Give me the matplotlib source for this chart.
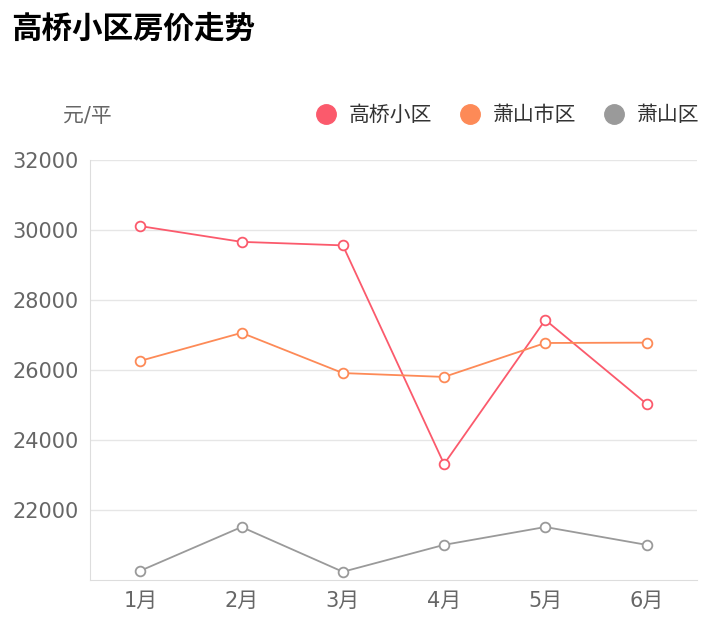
import matplotlib.pyplot as plt
from matplotlib.lines import Line2D

plt.rcParams['font.family'] = ['DejaVu Sans', 'Noto Sans CJK JP', 'Noto Sans CJK SC',
                               'Noto Sans CJK TC', 'Noto Sans CJK KR']

months = ['1月', '2月', '3月', '4月', '5月', '6月']
gaoqiao = [30110, 29660, 29560, 23310, 27430, 25030]
xs_city = [26260, 27060, 25910, 25800, 26770, 26780]
xs_dist = [20260, 21510, 20230, 21000, 21510, 21000]
series = [('高桥小区', gaoqiao, '#fb5a6c'),
          ('萧山市区', xs_city, '#fd8a57'),
          ('萧山区', xs_dist, '#9a9a9a')]

fig = plt.figure(figsize=(7.18, 6.4), dpi=100)
ax = fig.add_axes([0.125, 0.094, 0.846, 0.656])
x = range(len(months))
for name, vals, c in series:
    ax.plot(x, vals, color=c, lw=1.3, marker='o', ms=7,
            mfc='white', mec=c, mew=1.3, zorder=3)

ax.set_xlim(-0.5, 5.5)
ax.set_ylim(20000, 32000)
ax.set_yticks(range(22000, 32001, 2000))
ax.set_xticks(list(x))
ax.set_xticklabels(months)
ax.grid(axis='y', color='#e6e6e6', lw=1)
ax.set_axisbelow(True)
for s in ['top', 'right']:
    ax.spines[s].set_visible(False)
ax.spines['left'].set_color('#dddddd')
ax.spines['bottom'].set_color('#dddddd')
ax.tick_params(colors='#666666', labelsize=15, length=0, pad=8)

fig.text(0.015, 0.955, '高桥小区房价走势', fontsize=22, fontweight='bold',
         va='center')
fig.text(0.088, 0.818, '元/平', fontsize=15, color='#666666', va='center')

handles = [Line2D([], [], marker='o', ls='', ms=14, color=c) for _, _, c in series]
fig.legend(handles, [s[0] for s in series], loc='center right',
           bbox_to_anchor=(1.0, 0.82), ncol=3, frameon=False, fontsize=15,
           handletextpad=0.1, columnspacing=0.8, labelcolor='#333333')

fig.savefig('out.png', dpi=100)
